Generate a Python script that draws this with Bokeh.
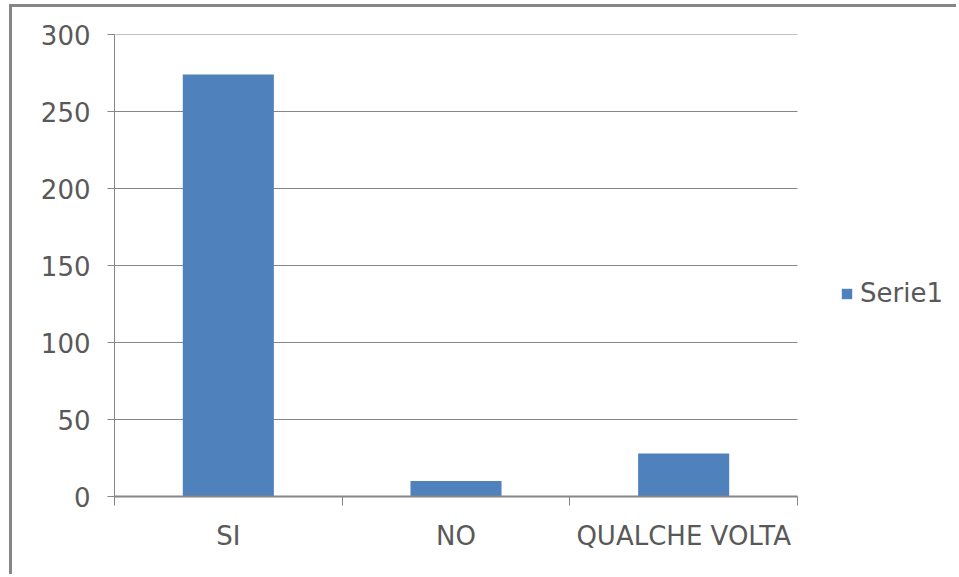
from bokeh.plotting import figure
from bokeh.models import Range1d, FixedTicker, Legend, LegendItem, ColumnDataSource
from bokeh.embed import file_html
from bokeh.resources import INLINE

categories = ["SI", "NO", "QUALCHE VOLTA"]
values = [274, 10, 28]
series_name = "Serie1"
y_ticks = [0, 50, 100, 150, 200, 250, 300]

GRAY = "#868686"
TEXT = "#595959"
BAR = "#4F81BD"
FONT = "DejaVu Sans"

FIG_W, FIG_H = 947, 570
LEFT, TOP, BOTTOM = 102, 27, 81
PLOT_W = 683  # width of the category area in pixels
n = len(categories)
x_end = n * (FIG_W - LEFT) / PLOT_W  # frame extends right to hold the legend

xpos = [i + 0.5 for i in range(n)]
src = ColumnDataSource(dict(x=xpos, top=values, cat=categories))
grid_src = ColumnDataSource(dict(y=y_ticks[1:]))

p = figure(width=FIG_W, height=FIG_H, x_range=Range1d(0, x_end),
           y_range=Range1d(0, 300), output_backend="svg", toolbar_location=None,
           min_border_left=LEFT, min_border_right=0, min_border_top=TOP,
           min_border_bottom=BOTTOM)
p.styles = {"border-left": f"3px solid {GRAY}", "border-top": f"3px solid {GRAY}",
            "margin-left": "9px", "margin-top": "4px"}
p.outline_line_color = None
p.background_fill_color = "white"
p.border_fill_color = "white"

# horizontal gridlines spanning only the category area
p.segment(x0=0, x1=n, y0="y", y1="y", source=grid_src, line_color=GRAY, line_width=1)

r = p.vbar(x="x", top="top", width=0.4, source=src, fill_color=BAR, line_color=None)

# y axis
ya = p.yaxis[0]
ya.ticker = FixedTicker(ticks=y_ticks, minor_ticks=[])
ya.axis_line_color = GRAY
ya.major_tick_line_color = GRAY
ya.major_tick_in = 0
ya.major_tick_out = 7
ya.minor_tick_line_color = None
ya.major_label_standoff = 17
ya.major_label_text_font = FONT
ya.major_label_text_font_size = "26px"
ya.major_label_text_color = TEXT

# x axis: labels at category centers, ticks between categories
xa = p.xaxis[0]
xa.bounds = (0, n)
xa.ticker = FixedTicker(ticks=xpos, minor_ticks=list(range(n + 1)))
xa.major_label_overrides = {x: c for x, c in zip(xpos, categories)}
xa.axis_line_color = GRAY
xa.axis_line_width = 2
xa.major_tick_line_color = None
xa.major_tick_in = 0
xa.major_tick_out = 0
xa.minor_tick_line_color = GRAY
xa.minor_tick_in = 0
xa.minor_tick_out = 9
xa.major_label_standoff = 15
xa.major_label_text_font = FONT
xa.major_label_text_font_size = "26px"
xa.major_label_text_color = TEXT

p.xgrid.grid_line_color = None
p.ygrid.grid_line_color = None

legend = Legend(items=[LegendItem(label=series_name, renderers=[r])],
                location=(726, 188), glyph_width=13, glyph_height=13,
                label_standoff=7, padding=0, margin=0, spacing=0,
                border_line_color=None, background_fill_alpha=0,
                label_text_font=FONT, label_text_font_size="26px",
                label_text_color=TEXT)
p.add_layout(legend, "center")

open("out.html", "w").write(file_html(p, INLINE))
